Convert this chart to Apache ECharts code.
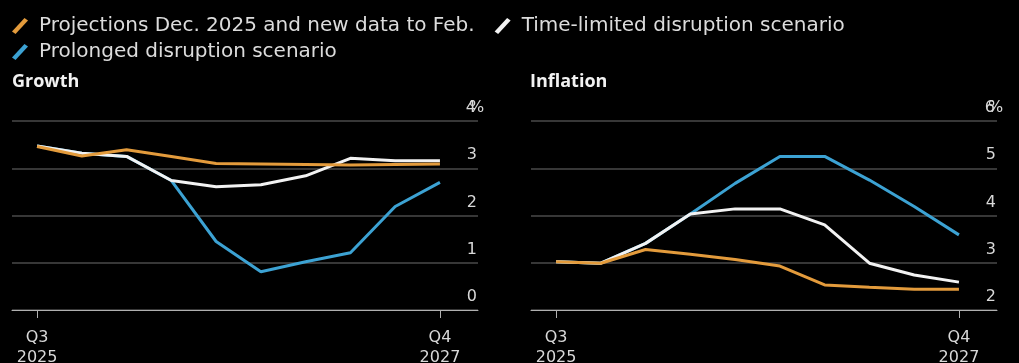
<!DOCTYPE html>
<html>
<head>
<meta charset="utf-8">
<script src="https://cdn.jsdelivr.net/npm/echarts@6/dist/echarts.min.js"></script>
<style>
    html, body { margin: 0; padding: 0; background: #000; }
    #chart { width: 1019px; height: 363px; }
</style>
</head>
<body>
<div id="chart"></div>
<script>
// quarters, Q3 2025 .. Q4 2027
var quarters = ['Q3\n2025', 'Q4\n2025', 'Q1\n2026', 'Q2\n2026', 'Q3\n2026', 'Q4\n2026', 'Q1\n2027', 'Q2\n2027', 'Q3\n2027', 'Q4\n2027'];
var shownQuarters = [0, 9];

var seriesNames = ['Projections Dec. 2025 and new data to Feb.', 'Time-limited disruption scenario', 'Prolonged disruption scenario'];

// growth, %
var growthProjection = [3.46, 3.26, 3.39, 3.25, 3.10, 3.09, 3.08, 3.07, 3.08, 3.09];
var growthLimited    = [3.47, 3.32, 3.25, 2.74, 2.61, 2.65, 2.84, 3.21, 3.16, 3.16];
var growthProlonged  = [3.47, 3.32, 3.25, 2.74, 1.45, 0.81, 1.02, 1.21, 2.19, 2.70];
var growthTicks = [0, 1, 2, 3, 4];

// inflation, %
var inflationProjection = [3.02, 2.99, 3.28, 3.18, 3.07, 2.93, 2.53, 2.48, 2.44, 2.44];
var inflationLimited    = [3.02, 2.99, 3.41, 4.03, 4.14, 4.14, 3.80, 2.99, 2.74, 2.59];
var inflationProlonged  = [3.02, 2.99, 3.41, 4.03, 4.68, 5.25, 5.25, 4.75, 4.19, 3.59];
var inflationTicks = [2, 3, 4, 5, 6];

var colors = ['#e39b3c', '#f2f2f2', '#3ca2d3'];
var FONT = "'DejaVu Sans', sans-serif";
var TITLE_FONT = "'Open Sans', sans-serif";
var slash = 'path://M12.5,0 L16,2.5 L3.5,16 L0,13.5 Z';

function pairs(arr) {
    return arr.map(function (v, i) { return [i, v]; });
}

var chart = echarts.init(document.getElementById('chart'));

function xAxisFor(gridIndex) {
    return {
        type: 'value',
        gridIndex: gridIndex,
        min: -0.56,
        max: 9.85,
        splitLine: { show: false },
        axisLine: { show: true, lineStyle: { color: '#b0b0b0', width: 1 } },
        axisTick: { show: true, customValues: shownQuarters, length: 8, lineStyle: { color: '#b0b0b0' } },
        axisLabel: {
            customValues: shownQuarters,
            color: '#d8d8d8',
            fontFamily: FONT,
            fontSize: 16,
            lineHeight: 20,
            margin: 18,
            formatter: function (v) { return quarters[Math.round(v)]; }
        }
    };
}

function yAxisFor(gridIndex, ticks) {
    var top = ticks[ticks.length - 1];
    return {
        type: 'value',
        gridIndex: gridIndex,
        position: 'right',
        min: ticks[0],
        max: top,
        interval: 1,
        axisLine: { show: false },
        axisTick: { show: false },
        splitLine: { show: true, lineStyle: { color: '#4a4a4a', width: 1.5 } },
        axisLabel: {
            inside: true,
            margin: 1,
            color: '#d8d8d8',
            fontFamily: FONT,
            fontSize: 16,
            verticalAlign: 'bottom',
            padding: [0, 0, 5, 0],
            formatter: function (v) {
                return v === top ? '{n|' + v + '}{p|%}' : String(v);
            },
            rich: {
                n: { fontSize: 16, color: '#d8d8d8', fontFamily: FONT, verticalAlign: 'bottom' },
                p: { width: 1, align: 'left', fontSize: 16, color: '#d8d8d8', fontFamily: FONT, verticalAlign: 'bottom' }
            }
        }
    };
}

function lineSeries(name, data, xi, yi, color, z) {
    return {
        name: name,
        type: 'line',
        xAxisIndex: xi,
        yAxisIndex: yi,
        data: pairs(data),
        symbol: 'none',
        z: z,
        lineStyle: { color: color, width: 3 },
        itemStyle: { color: color }
    };
}

var legendText = { color: '#dcdcdc', fontFamily: FONT, fontSize: 20, padding: [0, 0, 0, 6] };

var option = {
    backgroundColor: '#000',
    animation: false,
    legend: [
        {
            left: 7, top: 11,
            itemWidth: 16, itemHeight: 16, itemGap: 20,
            icon: slash,
            data: [seriesNames[0], seriesNames[1]],
            textStyle: legendText,
            selectedMode: false
        },
        {
            left: 7, top: 37,
            itemWidth: 16, itemHeight: 16,
            icon: slash,
            data: [seriesNames[2]],
            textStyle: legendText,
            selectedMode: false
        }
    ],
    title: [
        { text: 'Growth', left: 7, top: 68, textStyle: { color: '#f2f2f2', fontFamily: TITLE_FONT, fontSize: 18, fontWeight: 'bold' } },
        { text: 'Inflation', left: 525, top: 68, textStyle: { color: '#f2f2f2', fontFamily: TITLE_FONT, fontSize: 18, fontWeight: 'bold' } }
    ],
    grid: [
        { left: 12, width: 466, top: 121, height: 189, outerBoundsMode: 'none' },
        { left: 531, width: 466, top: 121, height: 189, outerBoundsMode: 'none' }
    ],
    xAxis: [xAxisFor(0), xAxisFor(1)],
    yAxis: [yAxisFor(0, growthTicks), yAxisFor(1, inflationTicks)],
    series: [
        lineSeries(seriesNames[2], growthProlonged, 0, 0, colors[2], 2),
        lineSeries(seriesNames[1], growthLimited, 0, 0, colors[1], 3),
        lineSeries(seriesNames[0], growthProjection, 0, 0, colors[0], 4),
        lineSeries(seriesNames[2], inflationProlonged, 1, 1, colors[2], 2),
        lineSeries(seriesNames[1], inflationLimited, 1, 1, colors[1], 3),
        lineSeries(seriesNames[0], inflationProjection, 1, 1, colors[0], 4)
    ]
};

chart.setOption(option);
</script>
</body>
</html>
